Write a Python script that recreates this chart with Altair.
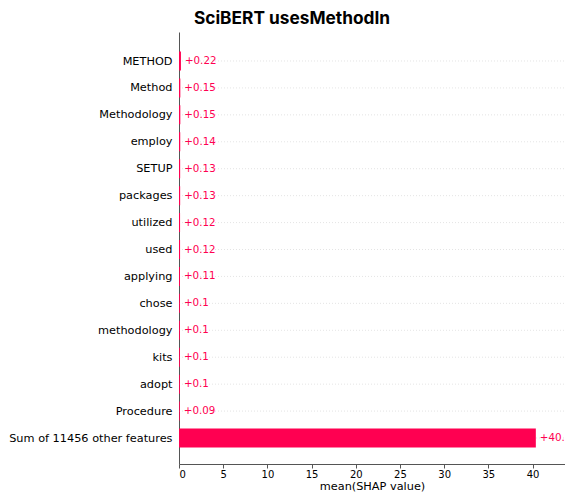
import altair as alt
import pandas as pd

features = ["METHOD", "Method", "Methodology", "employ", "SETUP", "packages", "utilized",
            "used", "applying", "chose", "methodology", "kits", "adopt", "Procedure",
            "Sum of 11456 other features"]
values = [0.22, 0.15, 0.15, 0.14, 0.13, 0.13, 0.12, 0.12, 0.11, 0.1, 0.1, 0.1, 0.1, 0.09, 40.37]
value_labels = ["+0.22", "+0.15", "+0.15", "+0.14", "+0.13", "+0.13", "+0.12", "+0.12",
                "+0.11", "+0.1", "+0.1", "+0.1", "+0.1", "+0.09", "+40.37"]
x_ticks = [0, 5, 10, 15, 20, 25, 30, 35, 40]

XMAX = 43.67
RED = "#ff0051"
FONT = "DejaVu Sans"

df = pd.DataFrame({
    "idx": list(range(len(features))),
    "feature": features,
    "val": values,
    "lbl": value_labels,
    "zero": [0.0] * len(features),
    "xmax": [XMAX] * len(features),
})

label_array = "[" + ",".join("'" + f + "'" for f in features) + "]"

yscale = alt.Scale(domain=[-1.077, 14.965], reverse=True, nice=False, zero=False, padding=0)
xscale = alt.Scale(domain=[0, XMAX], nice=False, zero=False, padding=0)

yaxis = alt.Axis(values=list(range(len(features))), labelExpr=label_array + "[datum.value]",
                 ticks=False, grid=False, title=None, labelFontSize=11.3, labelFont=FONT,
                 labelColor="#000000", labelPadding=7, labelOverlap=False,
                 domainColor="#555555", domainWidth=1)
xaxis = alt.Axis(values=x_ticks, grid=False, title="mean(SHAP value)", titleFont=FONT,
                 titleFontSize=11.3, titleFontWeight="normal", titleColor="#000000",
                 labelFont=FONT, labelFontSize=10, labelColor="#000000", tickSize=4,
                 tickColor="#555555", domainColor="#555555", labelPadding=1, titlePadding=1,
                 labelOverlap=False)

base = alt.Chart(df)

grid = base.mark_rule(color="#d9d9d9", strokeDash=[1, 2], strokeWidth=0.7).encode(
    x=alt.X("zero:Q", scale=xscale, axis=xaxis),
    x2="xmax:Q",
    y=alt.Y("idx:Q", scale=yscale, axis=yaxis),
)

bars = base.mark_bar(orient="horizontal", size=19, color=RED).encode(
    x=alt.X("zero:Q", scale=xscale, axis=xaxis),
    x2="val:Q",
    y=alt.Y("idx:Q", scale=yscale, axis=yaxis),
)

texts = base.mark_text(align="left", baseline="middle", dx=4, color=RED,
                       fontSize=10.3, font=FONT).encode(
    x=alt.X("val:Q", scale=xscale, axis=xaxis),
    y=alt.Y("idx:Q", scale=yscale, axis=yaxis),
    text="lbl:N",
)

chart = alt.layer(grid, bars, texts).properties(
    width=386,
    height=432,
    autosize=alt.AutoSizeParams(type="none"),
    padding={"left": 171, "top": 24, "right": 0, "bottom": 29},
    title=alt.TitleParams("SciBERT usesMethodIn", font="Inter", fontSize=17.3, fontWeight="bold",
                          color="#000000", anchor="middle", frame="group", dx=-80, offset=5),
).configure_view(stroke=None).configure_axisY(labelOverlap=False).configure_axisX(labelOverlap=False)

chart.save("out.html", embed_options={"renderer": "svg", "actions": False})
